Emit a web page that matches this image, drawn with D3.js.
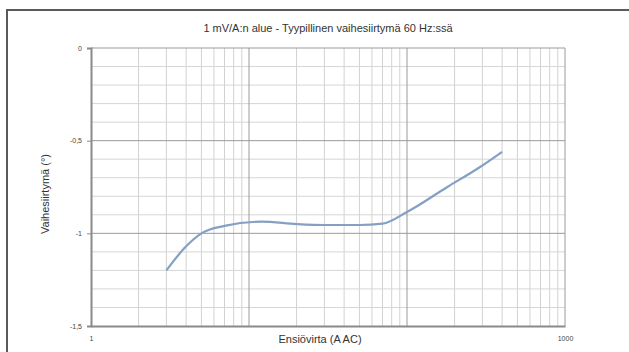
<!DOCTYPE html>
<html>
<head>
<meta charset="utf-8">
<script src="https://cdn.jsdelivr.net/npm/d3@7"></script>
<style>
  body { margin: 0; background: #fff; }
  svg text { font-family: "Liberation Sans Narrow", "Arial Narrow", "Liberation Sans", sans-serif; }
</style>
</head>
<body>
<div class="chart"></div>
<script>
// data
var current = [3, 4, 5, 7, 12, 20, 30, 50, 70, 100, 180, 290, 400]
var phase = [-1.2, -1.07, -1.0, -0.96, -0.937, -0.95, -0.955, -0.955, -0.948, -0.885, -0.75, -0.642, -0.56]
var yTicks = [0, -0.5, -1, -1.5]
var yTickLabels = ['0', '-0,5', '-1', '-1,5']
var xTicks = [1, 1000]
var xTickLabels = ['1', '1000']

var W = 629, H = 352
let margin = {top: 48, right: 64, bottom: 26, left: 91}

var svg = d3.select('.chart').append('svg')
    .attr('width', W)
    .attr('height', H)

// outer frame (runs past the window on right / bottom)
svg.append('rect')
    .attr('x', 7).attr('y', 10)
    .attr('width', W + 20).attr('height', H + 20)
    .attr('fill', 'none')
    .attr('stroke', '#5a5a5a')
    .attr('stroke-width', 2)

let x = d3.scaleLog()
    .domain([1, 1000])
    .range([margin.left, W - margin.right])

let y = d3.scaleLinear()
    .domain([-1.5, 0])
    .range([H - margin.bottom, margin.top])

// minor vertical grid (2..9 of each decade)
var minorX = []
;[1, 10, 100].forEach(function(d) {
    for (var k = 2; k <= 9; k++) minorX.push(d * k)
})
svg.append('g')
    .selectAll('line')
    .data(minorX)
    .enter().append('line')
    .attr('x1', d => x(d)).attr('x2', d => x(d))
    .attr('y1', y(0)).attr('y2', y(-1.5))
    .attr('stroke', '#d2d2d2')
    .attr('stroke-width', 1)

// minor horizontal grid every 0.1
var minorY = d3.range(1, 15).map(i => -i / 10).filter(v => Math.abs(v * 2 - Math.round(v * 2)) > 1e-6)
svg.append('g')
    .selectAll('line')
    .data(minorY)
    .enter().append('line')
    .attr('x1', x(1)).attr('x2', x(1000))
    .attr('y1', d => y(d)).attr('y2', d => y(d))
    .attr('stroke', '#d6d6d6')
    .attr('stroke-width', 1)

// major grid
svg.append('g')
    .selectAll('line')
    .data([10, 100, 1000])
    .enter().append('line')
    .attr('x1', d => x(d)).attr('x2', d => x(d))
    .attr('y1', y(0)).attr('y2', y(-1.5))
    .attr('stroke', '#9a9a9a')
    .attr('stroke-width', 1)

svg.append('g')
    .selectAll('line')
    .data([0, -0.5, -1])
    .enter().append('line')
    .attr('x1', x(1)).attr('x2', x(1000))
    .attr('y1', d => y(d)).attr('y2', d => y(d))
    .attr('stroke', '#9a9a9a')
    .attr('stroke-width', 1)

// axes
let xAxis = g => g
    .attr('transform', 'translate(0,' + y(-1.5) + ')')
    .call(d3.axisBottom(x).tickValues(xTicks).tickSize(0).tickPadding(10)
        .tickFormat((d, i) => xTickLabels[i]))

let yAxis = g => g
    .attr('transform', 'translate(' + x(1) + ',0)')
    .call(d3.axisLeft(y).tickValues(yTicks).tickSize(4).tickPadding(5)
        .tickFormat((d, i) => yTickLabels[i]))

svg.append('g')
    .call(xAxis)
    .call(g => g.select('.domain').attr('stroke', '#8a8a8a').attr('stroke-width', 2))
    .call(g => g.selectAll('text').attr('fill', '#444').style('font-size', '7px'))

svg.append('g')
    .call(yAxis)
    .call(g => g.select('.domain').attr('stroke', '#8a8a8a').attr('stroke-width', 2))
    .call(g => g.selectAll('line').attr('stroke', '#8a8a8a'))
    .call(g => g.selectAll('text').attr('fill', '#444').style('font-size', '7px'))

// series
let line = d3.line()
    .x((d, i) => x(current[i]))
    .y(d => y(d))
    .curve(d3.curveMonotoneX)

svg.append('path')
    .attr('d', line(phase))
    .attr('fill', 'none')
    .attr('stroke', '#84a0c4')
    .attr('stroke-width', 2.2)

// titles
svg.append('text')
    .attr('x', 328).attr('y', 32)
    .attr('text-anchor', 'middle')
    .style('font-size', '11px')
    .attr('fill', '#333')
    .text('1 mV/A:n alue - Tyypillinen vaihesiirtymä 60 Hz:ssä')

svg.append('text')
    .attr('x', 320).attr('y', 343)
    .attr('text-anchor', 'middle')
    .style('font-size', '11px')
    .attr('fill', '#333')
    .text('Ensiövirta (A AC)')

svg.append('text')
    .attr('transform', 'translate(49,194) rotate(-90)')
    .attr('text-anchor', 'middle')
    .style('font-size', '11px')
    .attr('fill', '#333')
    .text('Vaihesiirtymä (°)')
</script>
</body>
</html>
